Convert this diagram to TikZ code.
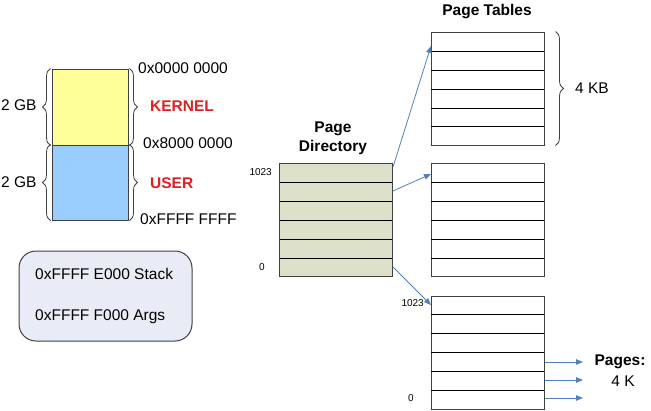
\documentclass[tikz,border=0pt]{standalone}
\usepackage{fontspec}
\setmainfont{Liberation Sans}
\usetikzlibrary{arrows.meta,decorations.pathreplacing}
\definecolor{kernfill}{HTML}{FFFF99}
\definecolor{userfill}{HTML}{99CCFF}
\definecolor{pdfill}{HTML}{DCE0C8}
\definecolor{notefill}{HTML}{E9ECF6}
\definecolor{redtxt}{HTML}{E02020}
\definecolor{arrowblue}{HTML}{4F81BD}
\definecolor{edge}{HTML}{404040}
\begin{document}
\begin{tikzpicture}[x=1pt,y=-1pt,
  font=\fontsize{15.5}{18}\selectfont,
  lab/.style={inner sep=0pt,text height=11pt,text depth=0pt},
  small/.style={inner sep=0pt,font=\fontsize{10}{12}\selectfont,text height=7.2pt,text depth=0pt},
  bold/.style={font=\fontsize{15.5}{18}\selectfont\bfseries},
  membox/.style={draw=edge,line width=1pt,inner sep=0pt,minimum width=76pt},
  tbox/.style={draw=edge,line width=1pt,inner sep=0pt,minimum width=113pt,minimum height=113pt},
  rowline/.style={draw=black,line width=0.9pt},
  brace/.style={draw=edge,line width=0.8pt,decorate,decoration={brace,amplitude=8pt}},
  link/.style={draw=arrowblue,line width=0.8pt,-{Triangle[length=7pt,width=5.5pt]}},
]
\useasboundingbox (0,0) rectangle (651,410);

% memory map
\node[membox,fill=kernfill,minimum height=76pt] (kern) at (90,107) {};
\node[membox,fill=userfill,minimum height=75pt] (user) at (90,182.5) {};
\draw[brace] ([xshift=-1pt]kern.south west) -- ([xshift=-1pt]kern.north west);
\draw[brace] ([xshift=-1pt]user.south west) -- ([xshift=-1pt]user.north west);
\draw[brace] ([xshift=1pt]kern.north east) -- ([xshift=1pt]kern.south east);
\draw[brace] ([xshift=1pt]user.north east) -- ([xshift=1pt]user.south east);
\node[lab,anchor=west] (gb1) at (1,105) {2 GB};
\node[lab,anchor=west] (gb2) at (1,182) {2 GB};
\node[lab,anchor=west] (a0) at (138,68) {0x0000 0000};
\node[lab,anchor=west,text=redtxt,font=\fontsize{15.5}{18}\selectfont\bfseries] (kl) at (150,106) {KERNEL};
\node[lab,anchor=west] (a8) at (143,143) {0x8000 0000};
\node[lab,anchor=west,text=redtxt,font=\fontsize{15.5}{18}\selectfont\bfseries] (ul) at (150,183) {USER};
\node[lab,anchor=west] (af) at (140,219) {0xFFFF FFFF};

% note box
\node[draw=edge,line width=1pt,fill=notefill,rounded corners=17pt,minimum width=173pt,minimum height=90pt] (note) at (105.5,296) {};
\node[lab,anchor=west] (stk) at (35,274) {0xFFFF E000 Stack};
\node[lab,anchor=west] (arg) at (35,315) {0xFFFF F000 Args};

% page directory
\node[tbox,fill=pdfill] (pd) at (336,220) {};
\foreach \yy in {182,201,220,239,258} \draw[rowline] (280,\yy) -- (392,\yy);
\node[bold,align=center,inner sep=0pt] (pdt) at (333,138) {Page\\[1pt]Directory};
\node[small,anchor=east] (pdhi) at (272,172) {1023};
\node[small,anchor=east] (pdlo) at (265,267) {0};

% page tables
\node[bold,inner sep=0pt] (ptt) at (487,12) {Page Tables};
\node[tbox,fill=white] (pt1) at (487.5,88.5) {};
\foreach \yy in {51,70,89,108,126} \draw[rowline] (431,\yy) -- (544,\yy);
\node[tbox,fill=white] (pt2) at (487.5,220) {};
\foreach \yy in {182,201,220,239,258} \draw[rowline] (431,\yy) -- (544,\yy);
\node[tbox,fill=white] (pt3) at (487.5,352.5) {};
\foreach \yy in {314,333,352,371,390} \draw[rowline] (431,\yy) -- (544,\yy);
\draw[brace] ([xshift=11pt]pt1.north east) -- ([xshift=11pt]pt1.south east);
\node[lab,anchor=west] (kb) at (575,88) {4 KB};
\node[small,anchor=east] (pthi) at (424,303) {1023};
\node[small,anchor=east] (ptlo) at (414,398) {0};

% arrows
\coordinate (s1) at (393,167);
\coordinate (s2) at (393,191);
\coordinate (s3) at (393,267);
\coordinate (e1) at (431,46);
\coordinate (e2) at (431,174);
\coordinate (e3) at (431,305);
\draw[link] (s1) -- (e1);
\draw[link] (s2) -- (e2);
\draw[link] (s3) -- (e3);

\foreach \i/\yy in {1/362,2/380,3/398} {
  \coordinate (ps\i) at (545,\yy);
  \coordinate (pe\i) at (583,\yy);
  \draw[link] (ps\i) -- (pe\i);
}
\node[bold,inner sep=0pt] (pg) at (620,362) {Pages:};
\node[lab,inner sep=0pt] (pgk) at (623,381) {4 K};
\end{tikzpicture}
\end{document}
